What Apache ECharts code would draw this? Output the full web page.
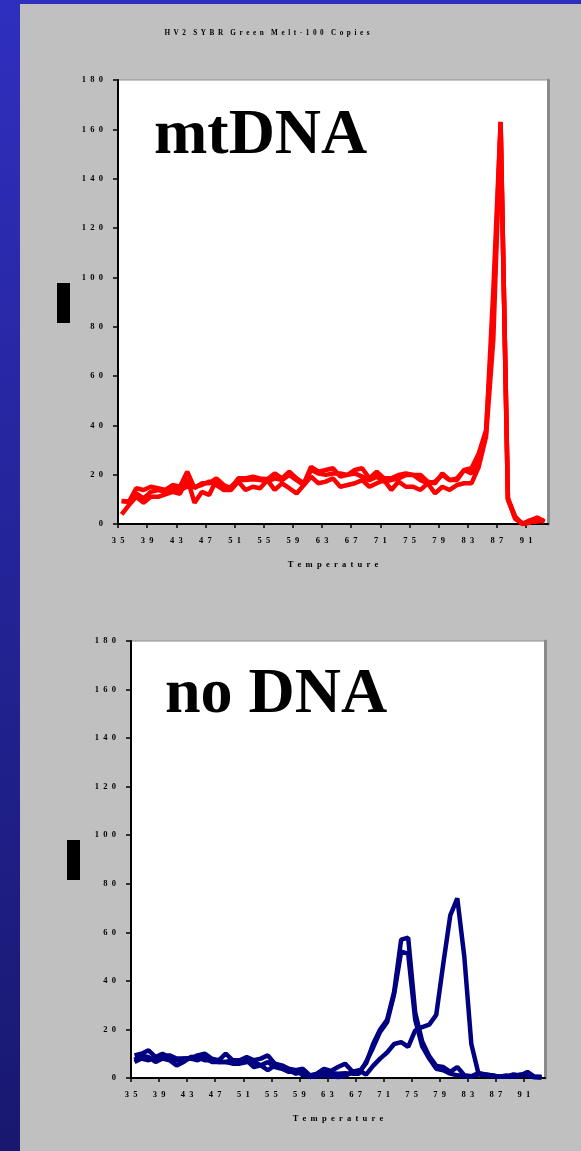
<!DOCTYPE html>
<html><head><meta charset="utf-8">
<script src="https://cdn.jsdelivr.net/npm/echarts@6/dist/echarts.min.js"></script>
<style>
html,body{margin:0;padding:0;background:#c0c0c0;}
#c{position:absolute;left:0;top:0;width:581px;height:1151px;}
#ls{position:absolute;left:0;top:0;width:20px;height:1151px;background:linear-gradient(#2f2fbf,#181870);z-index:2}
#ts{position:absolute;left:0;top:0;width:581px;height:4px;background:#2f2fbf;z-index:2}
</style></head><body>
<div id="c"></div><div id="ts"></div><div id="ls"></div>
<script>
const titleText = 'HV2 SYBR Green Melt-100 Copies';
const xName = 'Temperature';
const panelLabels = ['mtDNA', 'no DNA'];
const xTickLabels = [35, 39, 43, 47, 51, 55, 59, 63, 67, 71, 75, 79, 83, 87, 91];
const yTickLabels = [0, 20, 40, 60, 80, 100, 120, 140, 160, 180];

const temperatures = [35.5,36.5,37.5,38.5,39.5,40.5,41.5,42.5,43.5,44.5,45.5,46.5,47.5,48.5,49.5,50.5,51.5,52.5,53.5,54.5,55.5,56.5,57.5,58.5,59.5,60.5,61.5,62.5,63.5,64.5,65.5,66.5,67.5,68.5,69.5,70.5,71.5,72.5,73.5,74.5,75.5,76.5,77.5,78.5,79.5,80.5,81.5,82.5,83.5,84.5,85.5,86.5,87.5,88.5,89.5,90.5,91.5,92.5,93.5];

const mtDNA_a = [9.3,9,14.5,13.8,15.1,14.5,13.8,15.8,15.1,21.2,14.5,16.5,16.5,18.5,15.8,14.5,18.5,18.5,19.2,18.5,18.1,20.5,18.5,21.2,18.5,16.5,23.2,21.2,21.9,22.6,19.2,19.9,21.9,22.6,18.5,21.2,18.5,18.5,19.9,20.5,19.9,19.9,17.2,16.5,20.5,17.8,17.8,21.9,22.6,28.6,38,85,163,10.5,3,0,1.5,2.5,0.8];
const mtDNA_b = [3.9,7.7,11,8.6,11,11,12,13,12.2,18.5,8.6,13,11.8,17.8,13.8,13.8,17.2,13.8,15.1,14.5,17.8,13.8,16.5,14.5,12.4,15.8,19.2,16.5,17.2,18.5,15.1,15.8,16.5,17.8,15.1,16.5,17.8,13.8,17.2,15.1,15.1,13.8,16.5,12.4,15.1,13.8,15.8,16.5,16.5,23.2,35.4,75,161,10,2,0.3,0.8,1,1.5];
const mtDNA_c = [9.3,9,12.4,10.4,13,13.8,13,14.5,13.8,15.1,15.1,15.8,17.2,15.8,13.8,15.1,17.8,17.8,18.1,17.8,17.2,18.5,17.8,19.9,17.8,15.8,21.9,20.5,19.9,20.5,20.5,19.9,20.5,19.2,17.8,19.2,17.2,17.8,18.5,19.9,19.9,17.8,16.5,17.2,19.9,17.8,18.5,21.9,20.5,25.9,36.8,95,163,10,2.5,0,0.5,2.7,1];

const noDNA_a = [9.3,10,11.4,8.6,9.3,9.3,8,8,8,9.3,10,8,7.3,10,7.3,7.3,8.6,7.3,8,9.3,5.9,5.2,3.8,3.2,3.8,1.1,1.8,3.8,2.9,4.5,5.9,2.9,2.5,6,14,20,24,35.5,57,57.8,27,15,9,5,4.5,2.5,4.5,1.1,0.7,2,1.5,1,0.5,0.5,1.5,1,2.5,0.5,0.3];
const noDNA_b = [7.5,9.3,8.6,6.6,8,7.3,5.2,6.6,8.6,8.6,7.3,7.3,6.6,6.6,5.9,5.9,6.6,6.6,5.2,3.2,5.2,4.5,3.2,1.8,2.5,0.4,1.1,2.5,2,1.8,2,1.8,1.8,6.6,12.5,19,23,34.5,52,51.2,24,13,8,3.8,3.2,1.8,1.1,0.7,0.5,1.5,1,0.8,0.5,1,0.5,1.5,1,0.3,0.2];
const noDNA_c = [6.6,8,7.3,8.6,10,8,7.3,8,8,7.3,8.6,6.6,6.6,6.6,7.3,6.6,7.3,4.5,5.2,6.6,4.5,3.8,2.5,3.2,1.1,0.7,0.7,1.1,0.7,0.4,0.7,2.5,3.2,1.4,5,8,10.5,14,14.8,12.8,19.6,21,22,26,47,67,74,50,14,2,1.5,1,0.5,0.5,1,1,2,0.5,0.5];

const spaced = (s, gap) => String(s).split('').join(gap || '  ');
const spacedWords = s => s.split(' ').map(w => spaced(w)).join('    ');
const labelFont = { fontFamily: 'Liberation Serif', fontWeight: 'bold', fontSize: 8.5, color: '#000' };

function pair(vals) { return temperatures.map((t, i) => [t, vals[i]]); }

const grids = [
  { left: 118, top: 80, width: 430, height: 444 },
  { left: 131, top: 641, width: 414, height: 437 }
];

const xAxes = [], yAxes = [];
grids.forEach((g, i) => {
  xAxes.push({
    type: 'value', gridIndex: i, min: xTickLabels[0], max: 94, interval: 4,
    name: spaced(xName), nameLocation: 'middle', nameGap: 36,
    nameTextStyle: labelFont,
    axisLine: { show: true, onZero: false, lineStyle: { color: '#000', width: 2 } },
    axisTick: { show: true, length: 4, lineStyle: { color: '#000', width: 1.5 } },
    axisLabel: Object.assign({ margin: 12, showMaxLabel: false,
      formatter: v => xTickLabels.includes(v) ? spaced(v) : '' }, labelFont),
    splitLine: { show: false }
  });
  yAxes.push({
    type: 'value', gridIndex: i, min: yTickLabels[0], max: yTickLabels[yTickLabels.length - 1], interval: 20,
    axisLine: { show: true, lineStyle: { color: '#000', width: 2 } },
    axisTick: { show: true, length: 5, lineStyle: { color: '#000', width: 1.5 } },
    axisLabel: Object.assign({ margin: 15, formatter: v => spaced(v) }, labelFont),
    splitLine: { show: false }
  });
  yAxes.push({
    type: 'value', gridIndex: i, position: 'right', min: 0, max: 180, interval: 20,
    axisLine: { show: true, lineStyle: { color: '#8a8a8a', width: 3 } },
    axisTick: { show: false }, axisLabel: { show: false }, splitLine: { show: false }
  });
});

function line(vals, gi, color) {
  return { type: 'line', xAxisIndex: gi, yAxisIndex: gi * 2, data: pair(vals), showSymbol: false, symbol: 'none',
    lineStyle: { color: color, width: 4.5 }, itemStyle: { color: color }, animation: false };
}

const chart = echarts.init(document.getElementById('c'));
chart.setOption({
  backgroundColor: 'transparent',
  animation: false,
  grid: grids.map(g => Object.assign({ show: true, backgroundColor: '#fff', borderColor: '#909090', borderWidth: 1 }, g)),
  xAxis: xAxes,
  yAxis: yAxes,
  series: [
    line(mtDNA_a, 0, '#ff0000'), line(mtDNA_b, 0, '#ff0000'), line(mtDNA_c, 0, '#ff0000'),
    line(noDNA_a, 1, '#000080'), line(noDNA_b, 1, '#000080'), line(noDNA_c, 1, '#000080')
  ],
  graphic: [
    { type: 'text', x: 267, y: 30, style: { text: spacedWords(titleText), align: 'center', verticalAlign: 'top', font: 'bold 7.2px "Liberation Serif"', fill: '#000' } },
    { type: 'text', x: 154, y: 104, style: { text: panelLabels[0], font: 'bold 64px "Liberation Serif"', fill: '#000' } },
    { type: 'text', x: 165, y: 663, style: { text: panelLabels[1], font: 'bold 64px "Liberation Serif"', fill: '#000' } },
    { type: 'rect', shape: { x: 57, y: 283, width: 13, height: 40 }, style: { fill: '#000' } },
    { type: 'rect', shape: { x: 67, y: 840, width: 13, height: 40 }, style: { fill: '#000' } }
  ]
});
</script>
</body></html>
